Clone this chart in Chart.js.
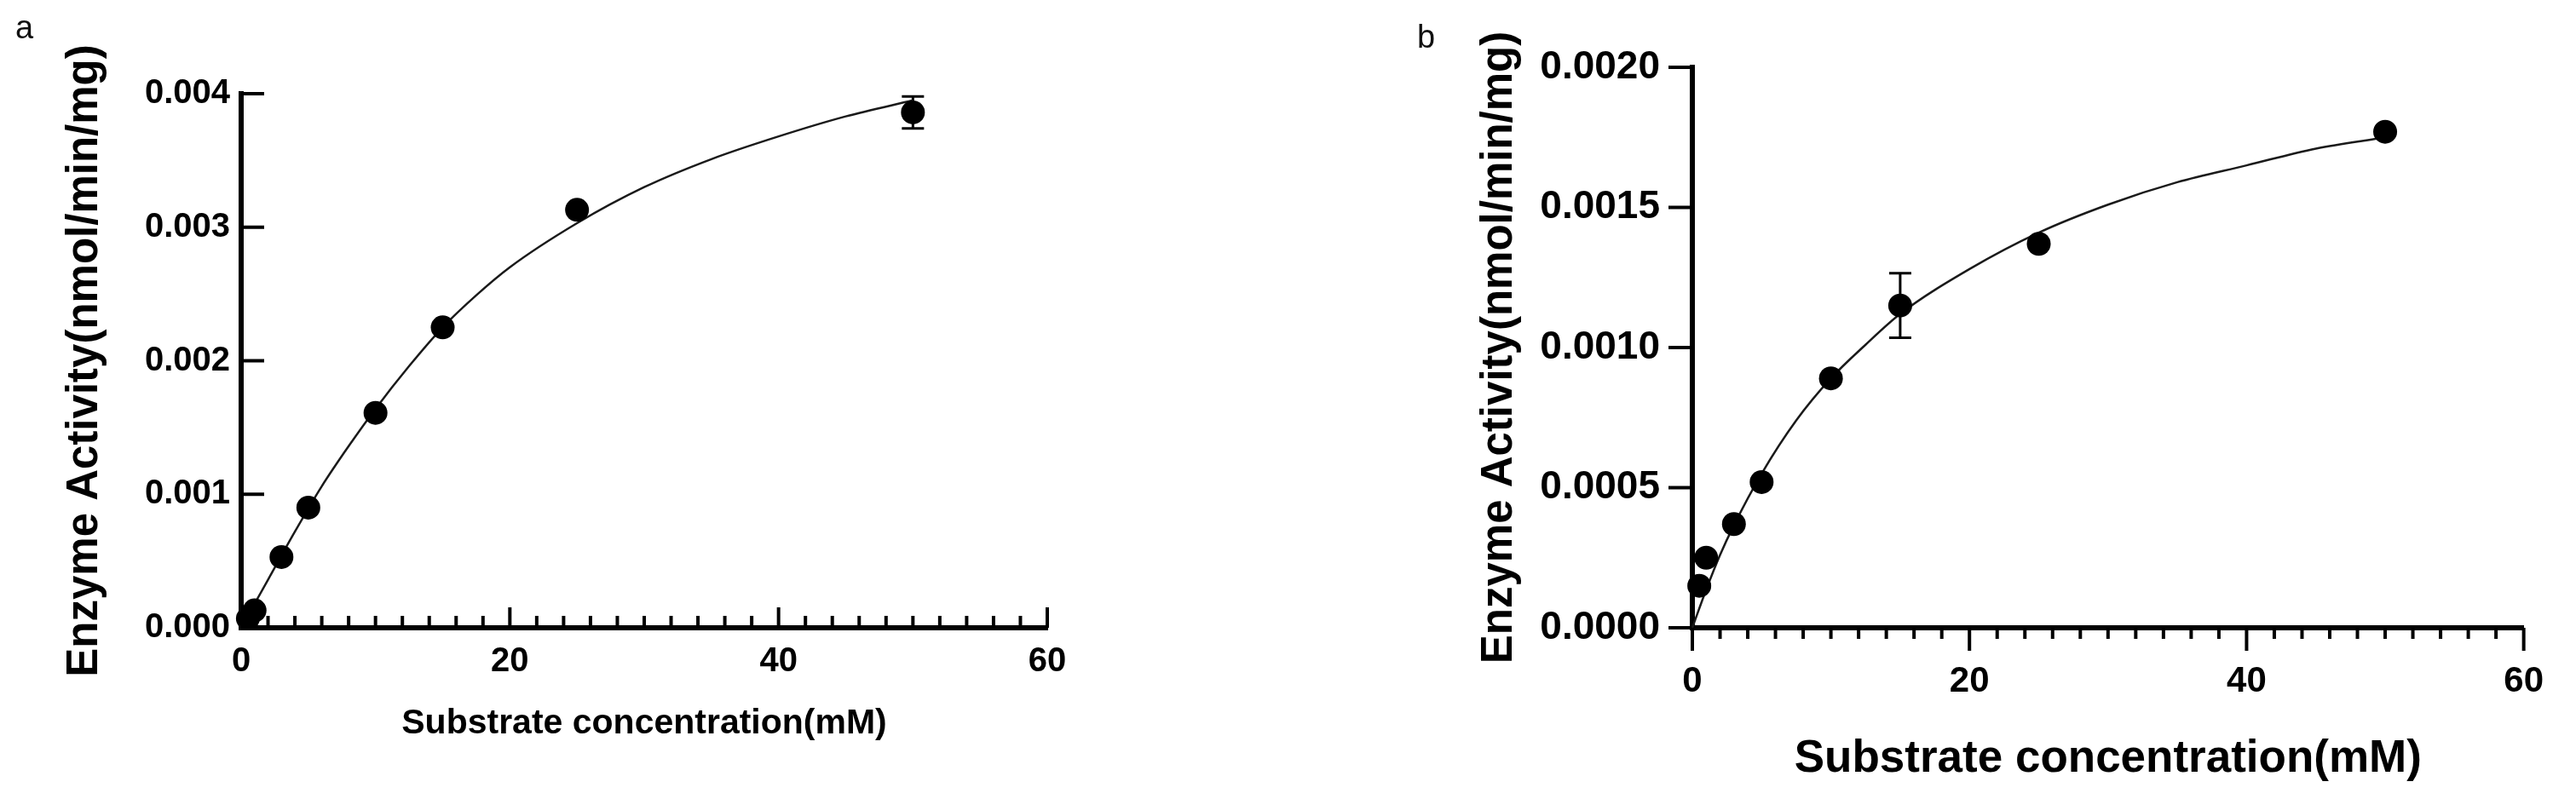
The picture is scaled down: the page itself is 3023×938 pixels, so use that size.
<!DOCTYPE html>
<html>
<head>
<meta charset="utf-8">
<script src="https://cdn.jsdelivr.net/npm/chart.js@4.4.0/dist/chart.umd.min.js"></script>
<style>
  html, body { margin: 0; padding: 0; background: #fff; }
  body { width: 3023px; height: 938px; position: relative; overflow: hidden; }
  canvas { position: absolute; top: 0; }
  #chartA { left: 0; }
  #chartB { left: 1500px; }
  .panel { position: absolute; font-family: 'Liberation Sans', Arial, sans-serif; font-size: 38px; line-height: 38px; color: #111; }
</style>
</head>
<body>
<canvas id="chartA" width="1500" height="938"></canvas>
<canvas id="chartB" width="1523" height="938"></canvas>
<div class="panel" style="left:18px; top:13px;">a</div>
<div class="panel" style="left:1663px; top:24px;">b</div>
<script>
// substrate concentrations (mM), same for both panels
const concA = [0.5, 1, 3, 5, 10, 15, 25, 50];
const activityA = [0.00007, 0.00013, 0.00053, 0.00090, 0.00161, 0.00225, 0.00313, 0.00386];
const errorA = [0, 0, 0, 0, 0, 0, 0, 0.00012];
// fitted curve
const fitXA = [0, 2, 4, 6, 8, 10, 12.5, 15, 17.5, 20, 25, 30, 35, 40, 45, 50];
const fitA = [0, 0.00036, 0.00072, 0.00106, 0.00136, 0.00164, 0.00196, 0.00225, 0.00249, 0.00270, 0.00303, 0.00330, 0.00351, 0.00368, 0.00383, 0.00395];

const concB = [0.5, 1, 3, 5, 10, 15, 25, 50];
const activityB = [0.00015, 0.00025, 0.00037, 0.00052, 0.00089, 0.00115, 0.00137, 0.00177];
const errorB = [0, 0, 0, 0, 0, 0.000115, 0, 0];
const fitXB = [0, 1, 2, 3, 5, 7.5, 10, 12.5, 15, 20, 25, 30, 35, 40, 45, 50];
const fitB = [0, 0.000136, 0.00026, 0.000366, 0.00055, 0.00074, 0.00089, 0.00101, 0.00112, 0.00128, 0.00141, 0.00151, 0.00159, 0.00165, 0.00171, 0.00175];

// tick labels
const xTickLabels = ['0', '20', '40', '60'];
const yTickLabelsA = ['0.000', '0.001', '0.002', '0.003', '0.004'];
const yTickLabelsB = ['0.0000', '0.0005', '0.0010', '0.0015', '0.0020'];

const FONT = "'Liberation Sans', Arial, sans-serif";

function toPoints(xs, ys) {
    return xs.map((x, i) => ({ x: x, y: ys[i] }));
}

// GraphPad style tick marks (inward or outward, with minor ticks on x)
function tickMarks(m) {
    return {
        id: 'tickMarks',
        beforeDatasetsDraw(chart) {
            const { ctx, chartArea: area } = chart;
            const x = chart.scales.x, y = chart.scales.y;
            ctx.save();
            ctx.strokeStyle = '#000';
            ctx.lineWidth = m.width;
            ctx.beginPath();
            y.ticks.forEach(t => {
                const py = y.getPixelForValue(t.value);
                ctx.moveTo(area.left, py);
                ctx.lineTo(area.left + m.yDir * m.yLen, py);
            });
            for (let v = x.min; v <= x.max + 1e-9; v += m.minorStep) {
                const px = x.getPixelForValue(v);
                const major = x.ticks.some(t => Math.abs(t.value - v) < 1e-9);
                ctx.moveTo(px, area.bottom);
                ctx.lineTo(px, area.bottom + m.xDir * (major ? m.xMajor : m.xMinor));
            }
            ctx.stroke();
            ctx.restore();
        }
    };
}

function errorBars(xs, ys, errs) {
    return {
        id: 'errorBars',
        beforeDatasetsDraw(chart) {
            const { ctx } = chart;
            const x = chart.scales.x, y = chart.scales.y;
            ctx.save();
            ctx.strokeStyle = '#000';
            ctx.lineWidth = 3;
            xs.forEach((v, i) => {
                if (!errs[i]) return;
                const px = x.getPixelForValue(v);
                const top = y.getPixelForValue(ys[i] + errs[i]);
                const bot = y.getPixelForValue(ys[i] - errs[i]);
                ctx.beginPath();
                ctx.moveTo(px, top); ctx.lineTo(px, bot);
                ctx.moveTo(px - 13, top); ctx.lineTo(px + 13, top);
                ctx.moveTo(px - 13, bot); ctx.lineTo(px + 13, bot);
                ctx.stroke();
            });
            ctx.restore();
        }
    };
}

function buildChart(id, s) {
    return new Chart(document.getElementById(id), {
        type: 'scatter',
        data: {
            datasets: [{
                data: toPoints(s.fitX, s.fit),
                showLine: true,
                borderColor: '#1a1a1a',
                borderWidth: 2.5,
                pointRadius: 0,
                cubicInterpolationMode: 'monotone',
                clip: false,
                order: 2
            }, {
                data: toPoints(s.conc, s.activity),
                showLine: false,
                pointRadius: 14,
                pointBackgroundColor: '#000',
                pointBorderWidth: 0,
                clip: false,
                order: 1
            }]
        },
        options: {
            responsive: false,
            animation: false,
            devicePixelRatio: 1,
            layout: { padding: s.padding },
            plugins: { legend: { display: false }, tooltip: { enabled: false } },
            scales: {
                x: {
                    type: 'linear',
                    min: 0,
                    max: 60,
                    afterFit: sc => { sc.height = s.xHeight; },
                    afterBuildTicks: sc => { sc.ticks = xTickLabels.map(l => ({ value: Number(l) })); },
                    ticks: {
                        padding: s.xTickPad,
                        color: '#000',
                        maxRotation: 0,
                        font: { family: FONT, size: s.xTickSize, weight: 'bold' },
                        callback: (v, i) => xTickLabels[i]
                    },
                    grid: { display: true, drawOnChartArea: false, drawTicks: false },
                    border: { display: true, color: '#000', width: 6 },
                    title: {
                        display: true,
                        text: 'Substrate concentration(mM)',
                        color: '#000',
                        font: { family: FONT, size: s.xTitleSize, weight: 'bold' },
                        padding: { top: 0, bottom: s.xTitlePad }
                    }
                },
                y: {
                    type: 'linear',
                    min: 0,
                    max: Number(s.yLabels[s.yLabels.length - 1]),
                    afterFit: sc => { sc.width = s.yWidth; },
                    afterBuildTicks: sc => { sc.ticks = s.yLabels.map(l => ({ value: Number(l) })); },
                    ticks: {
                        padding: s.yTickPad,
                        color: '#000',
                        font: { family: FONT, size: s.yTickSize, weight: 'bold' },
                        callback: (v, i) => s.yLabels[i]
                    },
                    grid: { display: true, drawOnChartArea: false, drawTicks: false },
                    border: { display: true, color: '#000', width: 6 },
                    title: {
                        display: true,
                        text: 'Enzyme Activity(nmol/min/mg)',
                        color: '#000',
                        font: { family: FONT, size: s.yTitleSize, weight: 'bold' },
                        padding: { top: s.yTitlePad, bottom: 0 }
                    }
                }
            }
        },
        plugins: [tickMarks(s.marks), errorBars(s.conc, s.activity, s.err)]
    });
}

document.addEventListener('DOMContentLoaded', function () {
    buildChart('chartA', {
        conc: concA, activity: activityA, err: errorA, fitX: fitXA, fit: fitA,
        yLabels: yTickLabelsA,
        padding: { left: 0, top: 110, right: 271, bottom: 0 },
        yWidth: 283, xHeight: 201,
        xTickSize: 40, xTickPad: 16, yTickSize: 40, yTickPad: 13,
        xTitleSize: 41, xTitlePad: 64, yTitleSize: 51, yTitlePad: 69,
        marks: { width: 4, yDir: 1, yLen: 27, xDir: -1, xMajor: 24, xMinor: 14, minorStep: 2 }
    });

    buildChart('chartB', {
        conc: concB, activity: activityB, err: errorB, fitX: fitXB, fit: fitB,
        yLabels: yTickLabelsB,
        padding: { left: 0, top: 79, right: 56, bottom: 0 },
        yWidth: 486, xHeight: 201,
        xTickSize: 42, xTickPad: 38, yTickSize: 46, yTickPad: 38,
        xTitleSize: 53, xTitlePad: 15, yTitleSize: 51, yTitlePad: 229,
        marks: { width: 4, yDir: -1, yLen: 28, xDir: 1, xMajor: 27, xMinor: 13, minorStep: 2 }
    });
});
</script>
</body>
</html>
